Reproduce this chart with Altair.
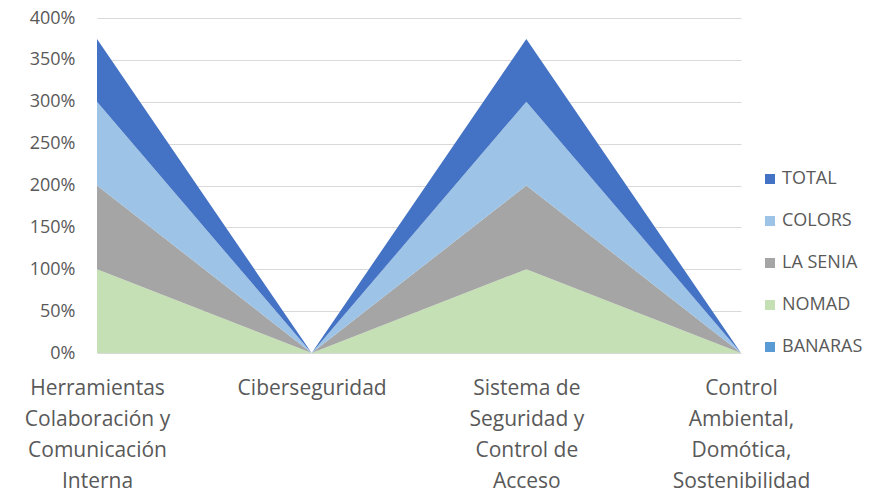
import altair as alt
import pandas as pd

categories = [
    "Herramientas\nColaboración y\nComunicación\nInterna",
    "Ciberseguridad",
    "Sistema de\nSeguridad y\nControl de\nAcceso",
    "Control\nAmbiental,\nDomótica,\nSostenibilidad",
]
series = ["BANARAS", "NOMAD", "LA SENIA", "COLORS", "TOTAL"]
values = {
    "BANARAS": [0.0, 0.0, 0.0, 0.0],
    "NOMAD": [1.0, 0.0, 1.0, 0.0],
    "LA SENIA": [1.0, 0.0, 1.0, 0.0],
    "COLORS": [1.0, 0.0, 1.0, 0.0],
    "TOTAL": [0.75, 0.0, 0.75, 0.0],
}
colors = {
    "TOTAL": "#4472C4",
    "COLORS": "#9DC3E6",
    "LA SENIA": "#A5A5A5",
    "NOMAD": "#C5E0B4",
    "BANARAS": "#5B9BD5",
}
legend_order = ["TOTAL", "COLORS", "LA SENIA", "NOMAD", "BANARAS"]

rows = []
for si, s in enumerate(series):
    for ci, c in enumerate(categories):
        rows.append({"category": c, "series": s, "value": values[s][ci], "stack": si})
df = pd.DataFrame(rows)

FONT = "Open Sans"
GREY = "#595959"

chart = alt.Chart(df).mark_area(opacity=1).encode(
    x=alt.X(
        "category:N",
        sort=categories,
        scale=alt.Scale(type="point", padding=0),
        axis=alt.Axis(
            title=None,
            labelAngle=0,
            labelExpr="split(datum.label, '\\n')",
            labelFont=FONT,
            labelFontSize=21,
            labelColor=GREY,
            labelLineHeight=31,
            labelPadding=24,
            labelBaseline="top",
            ticks=False,
            domain=False,
            grid=False,
            labelOverlap=False,
            labelBound=False,
            labelFlush=False,
        ),
    ),
    y=alt.Y(
        "value:Q",
        stack="zero",
        scale=alt.Scale(domain=[0, 4], nice=False),
        axis=alt.Axis(
            title=None,
            format=".0%",
            values=[0, 0.5, 1, 1.5, 2, 2.5, 3, 3.5, 4],
            labelFont=FONT,
            labelFontSize=18,
            labelColor=GREY,
            labelPadding=22,
            ticks=False,
            domain=False,
            gridColor="#D9D9D9",
            gridWidth=1,
        ),
    ),
    color=alt.Color(
        "series:N",
        scale=alt.Scale(domain=legend_order, range=[colors[s] for s in legend_order]),
        legend=alt.Legend(
            title=None,
            orient="none",
            legendX=664,
            legendY=152,
            symbolType="square",
            symbolSize=100,
            symbolStrokeWidth=0,
            labelFont=FONT,
            labelFontSize=18,
            labelColor=GREY,
            rowPadding=24,
            labelOffset=3,
        ),
    ),
    order=alt.Order("stack:Q", sort="ascending"),
).properties(
    width=644,
    height=335,
    autosize=alt.AutoSizeParams(type="none"),
    padding={"left": 89, "top": 10, "right": 124, "bottom": 140},
).configure(background="white", view=alt.ViewConfig(stroke=None))

chart.save("out.html", embed_options={"renderer": "svg", "actions": False})
